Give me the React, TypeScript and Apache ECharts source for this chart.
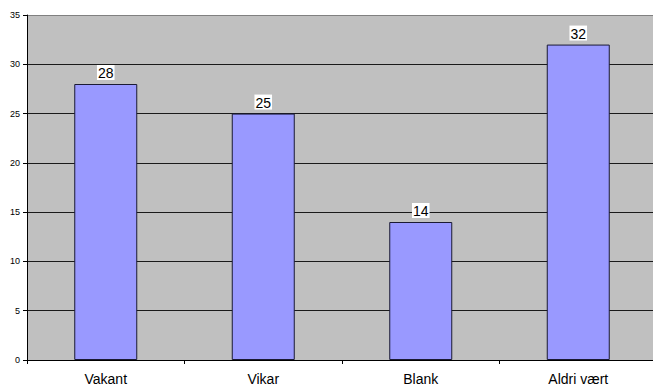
import React, { useEffect, useRef } from "react";
import * as echarts from "echarts";

const categories = ["Vakant", "Vikar", "Blank", "Aldri vært"];
const counts = [28, 25, 14, 32];
const yMin = 0;
const yMax = 35;
const yStep = 5;

export default function App() {
  const ref = useRef<HTMLDivElement>(null);

  useEffect(() => {
    document.body.style.margin = "0";
    if (!ref.current) return;
    const chart = echarts.init(ref.current, null, { renderer: "svg" });
    const lineCount = (yMax - yMin) / yStep + 1;
    // top gridline doubles as the plot frame, drawn grey
    const splitColors = Array.from({ length: lineCount }, (_, i) =>
      i === lineCount - 1 ? "#808080" : "#1a1a1a"
    );
    chart.setOption({
      animation: false,
      backgroundColor: "#ffffff",
      textStyle: { fontFamily: "Liberation Sans, Arial, sans-serif" },
      grid: {
        left: 27,
        top: 15,
        width: 630,
        height: 345,
        outerBoundsMode: "none",
        containLabel: false,
        show: true,
        backgroundColor: "#C0C0C0",
        borderWidth: 0,
      },
      xAxis: {
        type: "category",
        data: categories,
        boundaryGap: true,
        axisLine: { show: true, lineStyle: { color: "#000", width: 1 } },
        axisTick: { show: true, length: 4, alignWithLabel: false, lineStyle: { color: "#000" } },
        axisLabel: { color: "#000", fontSize: 14, margin: 12 },
        splitLine: { show: false },
      },
      yAxis: {
        type: "value",
        min: yMin,
        max: yMax,
        interval: yStep,
        axisLine: { show: true, lineStyle: { color: "#000", width: 1 } },
        axisTick: { show: true, length: 4, lineStyle: { color: "#000" } },
        axisLabel: { color: "#000", fontSize: 9, margin: 7 },
        splitLine: { show: true, lineStyle: { color: splitColors, width: 1 } },
      },
      series: [
        {
          type: "bar",
          data: counts,
          barWidth: "40%",
          itemStyle: { color: "#9999FF", borderColor: "#1a1a33", borderWidth: 1 },
          label: {
            show: true,
            position: "top",
            distance: 4,
            color: "#000",
            fontSize: 14,
            backgroundColor: "#ffffff",
            padding: [1, 1, 0, 1],
          },
        },
      ],
    });
    return () => chart.dispose();
  }, []);

  // The plot runs a few pixels past the right edge of the frame, so the
  // chart canvas is wider than the visible window and clipped.
  return (
    <div style={{ width: 653, height: 387, overflow: "hidden" }}>
      <div ref={ref} style={{ width: 670, height: 387 }} />
    </div>
  );
}
